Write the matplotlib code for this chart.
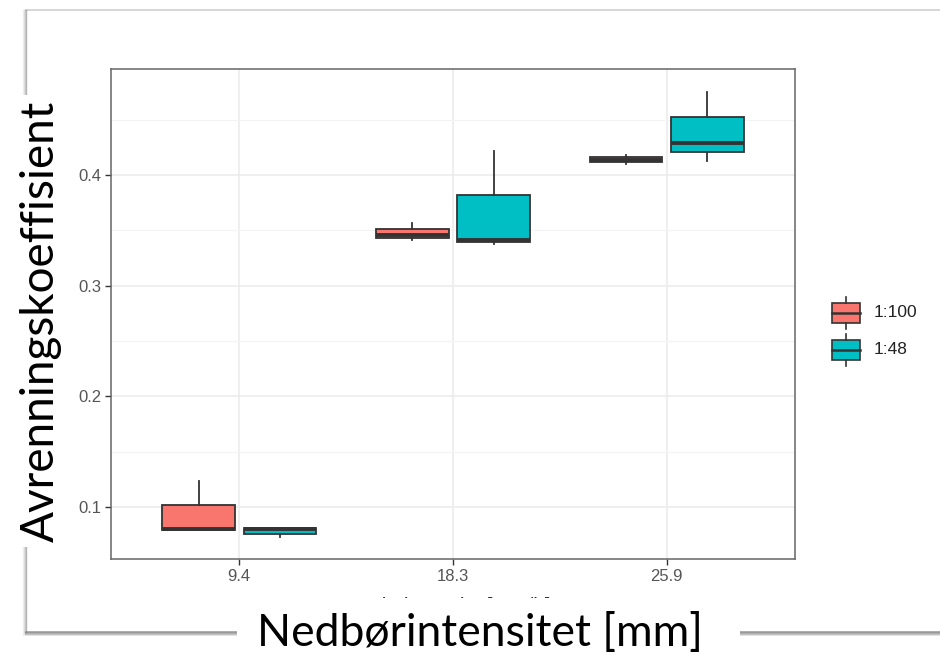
import numpy as np
import matplotlib.pyplot as plt
from matplotlib.patches import Rectangle
from matplotlib.lines import Line2D

# intensities (x categories) and the two model scales
categories = ["9.4", "18.3", "25.9"]
groups = ["1:100", "1:48"]
colors = ["#F8766D", "#00BFC4"]

# box statistics, one list per group, one value per category
lo_100 = [0.0796, 0.3415, 0.4100]
q1_100 = [0.0796, 0.3433, 0.4116]
med_100 = [0.0805, 0.3460, 0.4140]
q3_100 = [0.1022, 0.3509, 0.4164]
hi_100 = [0.1239, 0.3564, 0.4180]

lo_48 = [0.0733, 0.3378, 0.4130]
q1_48 = [0.0760, 0.3393, 0.4210]
med_48 = [0.0805, 0.3415, 0.4292]
q3_48 = [0.0814, 0.3817, 0.4520]
hi_48 = [0.0814, 0.4216, 0.4750]

yticks = [0.1, 0.2, 0.3, 0.4]
ylabel = "Avrenningskoeffisient"
xlabel = "Nedbørintensitet [mm]"
orig_xlabel = "Rain intensity [mm/h]"

W, H = 940, 656
fig = plt.figure(figsize=(W / 100, H / 100), dpi=100)
fig.patch.set_facecolor("white")

def fx(px):
    return px / W

def fy(py):
    return 1 - py / H

# screenshot frame with a little shadow
fig.add_artist(Line2D([fx(26), 1], [fy(10), fy(10)], color="#cfcfcf", lw=1.2))
for i, a in enumerate([0.55, 0.35, 0.2, 0.1]):
    fig.add_artist(Line2D([fx(26 - i), fx(26 - i)], [fy(10), fy(632 + i)], color="gray", lw=1, alpha=a))
    fig.add_artist(Line2D([fx(26), 1], [fy(632 + i), fy(632 + i)], color="gray", lw=1.3, alpha=a + 0.15))

ax = fig.add_axes([fx(111), fy(559), fx(795) - fx(111), fy(69) - fy(559)])
ax.set_facecolor("white")

stats = [
    (lo_100, q1_100, med_100, q3_100, hi_100),
    (lo_48, q1_48, med_48, q3_48, hi_48),
]
pos = np.arange(1, len(categories) + 1)
offs = [-0.19, 0.19]
for g, (lo, q1, med, q3, hi) in enumerate(stats):
    bs = []
    for i in range(len(categories)):
        bs.append(dict(whislo=lo[i], q1=q1[i], med=med[i], q3=q3[i], whishi=hi[i], fliers=[]))
    ax.bxp(bs, positions=pos + offs[g], widths=0.34, patch_artist=True,
           showcaps=False, showfliers=False,
           boxprops=dict(facecolor=colors[g], edgecolor="#333333", linewidth=1.3),
           whiskerprops=dict(color="#333333", linewidth=1.3),
           medianprops=dict(color="#333333", linewidth=2.8, solid_capstyle="butt"),
           zorder=3)

ax.set_xlim(0.4, 3.6)
ax.set_ylim(0.0531, 0.4958)
ax.set_xticks(pos)
ax.set_xticklabels(categories)
ax.set_yticks(yticks)
ax.set_yticklabels([f"{v:.1f}" for v in yticks])
ax.set_yticks([0.15, 0.25, 0.35, 0.45], minor=True)
ax.grid(True, which="major", color="#EBEBEB", lw=1.1, zorder=0)
ax.grid(True, which="minor", axis="y", color="#F3F3F3", lw=0.8, zorder=0)
ax.set_axisbelow(True)
for s in ax.spines.values():
    s.set_color("#666666")
    s.set_linewidth(1.1)
ax.tick_params(which="major", length=4, width=1, color="#333333",
               labelcolor="#555555", labelsize=12, pad=3)
ax.tick_params(which="minor", length=0)
for lab in ax.get_xticklabels() + ax.get_yticklabels():
    lab.set_fontfamily("Liberation Sans")

# original ggplot axis title, mostly covered by the pasted label
fig.text(fx(453), fy(606), orig_xlabel, ha="center", va="center",
         fontsize=15, color="#333333", family="Liberation Sans", zorder=1)

# legend (drawn like ggplot boxplot keys)
lg = fig.add_axes([fx(820), fy(375), fx(940) - fx(820), fy(290) - fy(375)])
lg.set_xlim(820, 940)
lg.set_ylim(375, 290)
lg.axis("off")
key_y = [312.7, 349.7]
for g in range(len(groups)):
    yc = key_y[g]
    lg.add_patch(Rectangle((832, yc - 10), 28, 20, facecolor=colors[g],
                           edgecolor="#333333", lw=1.2))
    lg.plot([846, 846], [yc - 16, yc - 10], color="#333333", lw=1.2)
    lg.plot([846, 846], [yc + 10, yc + 16], color="#333333", lw=1.2)
    lg.plot([832, 860], [yc, yc], color="#333333", lw=1.8)
    lg.text(874, yc, groups[g], ha="left", va="center", fontsize=12.5,
            color="#222222", family="Liberation Sans")

# pasted white boxes with the large labels
fig.add_artist(Rectangle((fx(10), fy(547)), fx(68) - fx(10), fy(95) - fy(547),
                         transform=fig.transFigure, facecolor="white",
                         edgecolor="none", zorder=5))
fig.add_artist(Rectangle((fx(237), 0), fx(740) - fx(237), fy(598),
                         transform=fig.transFigure, facecolor="white",
                         edgecolor="none", zorder=5))
fig.text(fx(41), fy(321), ylabel, rotation=90, ha="center", va="center",
         fontsize=33, color="black", family="Lato", zorder=6)
fig.text(fx(480), fy(633), xlabel, ha="center", va="center",
         fontsize=32, color="black", family="Lato", zorder=6)

fig.savefig("out.png", dpi=100)
